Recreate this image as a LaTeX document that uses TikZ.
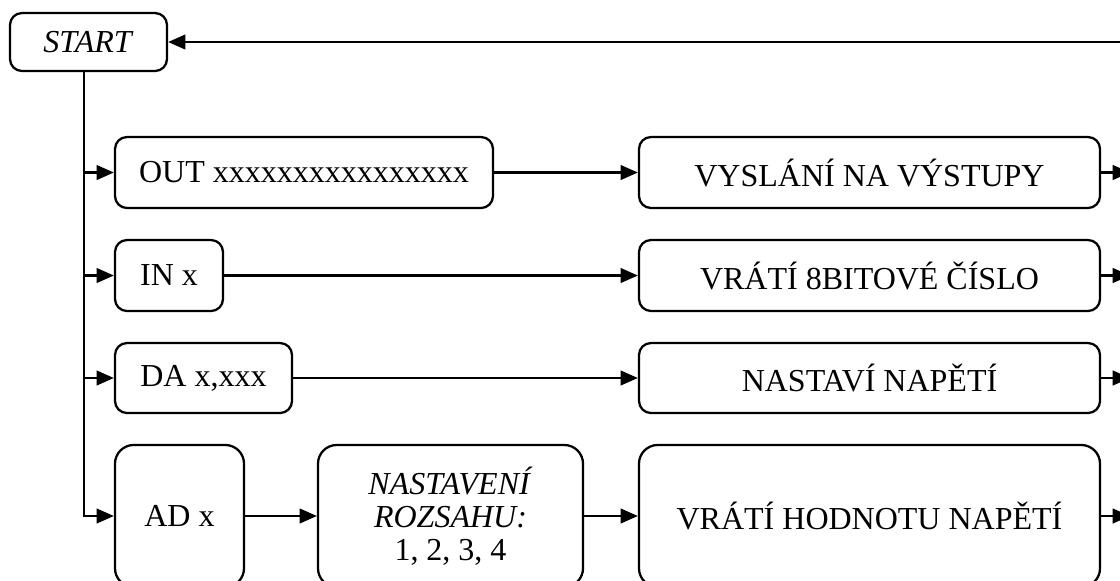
\documentclass[tikz,border=0pt]{standalone}
\usepackage{fontspec}
\setmainfont{Liberation Serif}
\usetikzlibrary{arrows.meta,positioning}

\tikzset{
  blok/.style 2 args={draw, line width=0.85pt, rounded corners=4.5pt,
    minimum width=#1*0.375pt, minimum height=#2*0.375pt,
    inner sep=0pt, align=center},
  sipka/.style={line width=0.85pt, -{Triangle[length=6.5pt,width=5.5pt]}},
}

\begin{document}
\begin{tikzpicture}[x=0.375pt, y=-0.375pt, font=\fontsize{12}{12.4}\selectfont]
  \clip (0,0) rectangle (1120,580);
  % start
  \node[blok={157}{58}] (start) at (88.5,42) {\textit{START}};
  % prikazy
  \node[blok={378}{71}] (out) at (304,172.5) {OUT xxxxxxxxxxxxxxxx};
  \node[blok={108}{71}] (inx) at (169,275.5) {IN x};
  \node[blok={177}{70}] (da) at (203.5,378) {DA x,xxx};
  \node[blok={129}{142}, rounded corners=7pt] (ad) at (179.5,516) {AD x};
  \node[blok={265}{142}, rounded corners=7pt] (rozsah) at (450.5,516)
    {\textit{NASTAVENÍ}\\ \textit{ROZSAHU:}\\ 1, 2, 3, 4};
  % odpovedi
  \node[blok={461}{71}] (vyslani) at (869.5,172.5) {VYSLÁNÍ NA VÝSTUPY};
  \node[blok={461}{71}] (vrati) at (869.5,275.5) {VRÁTÍ 8BITOVÉ ČÍSLO};
  \node[blok={461}{70}] (napeti) at (869.5,378) {NASTAVÍ NAPĚTÍ};
  \node[blok={461}{142}, rounded corners=7pt] (hodnota) at (869.5,516) {VRÁTÍ HODNOTU NAPĚTÍ};

  \coordinate (kmen) at (84,0);
  \coordinate (navrat) at (1130,0);

  % rozvetveni
  \draw[sipka] (start.south -| kmen) |- (ad.west);
  \foreach \n in {out,inx,da}
    \draw[sipka] (kmen |- \n.west) -- (\n.west);
  \draw[sipka] (out) -- (vyslani);
  \draw[sipka] (inx) -- (vrati);
  \draw[sipka] (da) -- (napeti);
  \draw[sipka] (ad) -- (rozsah);
  \draw[sipka] (rozsah) -- (hodnota);
  % navrat
  \foreach \n in {vyslani,vrati,napeti,hodnota}
    \draw[sipka] (\n.east) -- (\n.east -| navrat);
  \draw[sipka] (navrat |- start) -- (start.east);
\end{tikzpicture}
\end{document}
